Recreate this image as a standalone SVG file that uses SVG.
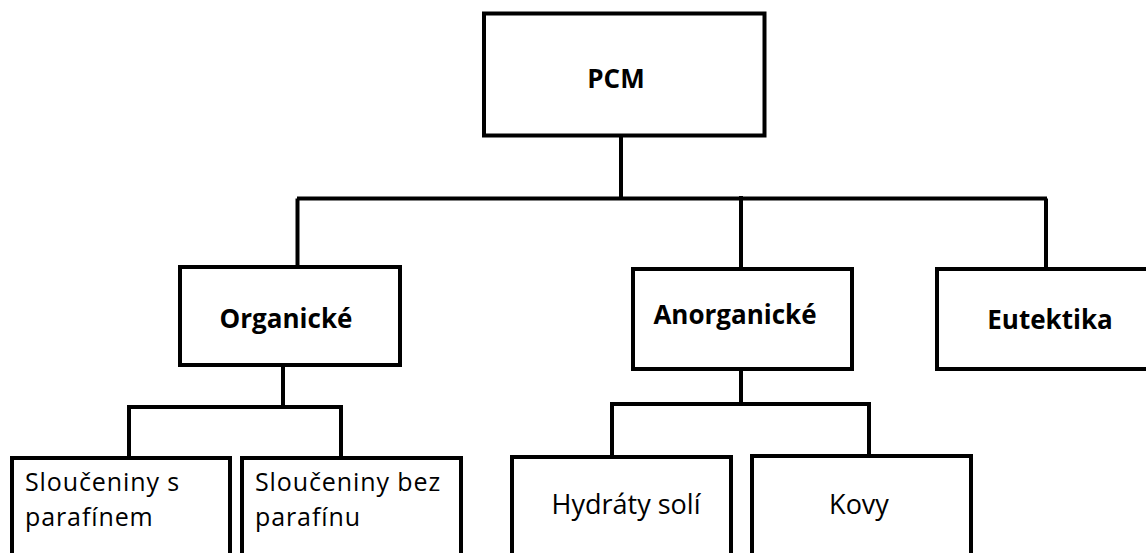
<svg xmlns="http://www.w3.org/2000/svg" width="1146" height="553" viewBox="0 0 1146 553">
<style>
.box{fill:#fff;stroke:#000;stroke-width:4}
.ln{stroke:#000;stroke-width:4;fill:none}
.b{font-family:"Open Sans","Noto Sans",sans-serif;font-weight:bold;font-size:26px;fill:#000}
.r{font-family:"Open Sans","Noto Sans",sans-serif;font-size:27px;fill:#000}
.r2{font-family:"Open Sans","Noto Sans",sans-serif;font-size:25px;letter-spacing:0.9px;fill:#000}
</style>
<rect width="1146" height="553" fill="#fff"/>
<g id="connectors">
<path class="ln" d="M621,136 V200"/>
<path class="ln" d="M297,198.5 H1047"/>
<path class="ln" d="M297.5,198.5 V267"/>
<path class="ln" d="M741,196 V269"/>
<path class="ln" d="M1046,198.5 V269"/>
<path class="ln" d="M283,365 V407"/>
<path class="ln" d="M129,407 H341"/>
<path class="ln" d="M129,405 V458"/>
<path class="ln" d="M341,405 V458"/>
<path class="ln" d="M741,369 V402"/>
<path class="ln" d="M612,404 H869"/>
<path class="ln" d="M612,402 V457"/>
<path class="ln" d="M869,402 V456"/>
</g>
<g id="pcm">
<rect class="box" x="484" y="13.5" width="280.5" height="122"/>
<text class="b" x="616" y="88" text-anchor="middle">PCM</text>
</g>
<g id="organicke">
<rect class="box" x="180" y="267" width="220" height="98"/>
<text class="b" x="286" y="328" text-anchor="middle">Organické</text>
</g>
<g id="anorganicke">
<rect class="box" x="633" y="269" width="219" height="100"/>
<text class="b" x="735" y="324" text-anchor="middle">Anorganické</text>
</g>
<g id="eutektika">
<rect class="box" x="937" y="269" width="220" height="100"/>
<text class="b" x="1050" y="329" text-anchor="middle">Eutektika</text>
</g>
<g id="slouceniny-s">
<rect class="box" x="12" y="458" width="218" height="110"/>
<text class="r2" x="25" y="491">Sloučeniny s</text>
<text class="r2" x="25" y="526">parafínem</text>
</g>
<g id="slouceniny-bez">
<rect class="box" x="242" y="458" width="219" height="110"/>
<text class="r2" x="255" y="491">Sloučeniny bez</text>
<text class="r2" x="255" y="526">parafínu</text>
</g>
<g id="hydraty">
<rect class="box" x="512" y="457" width="219" height="110"/>
<text class="r" x="626" y="514" text-anchor="middle">Hydráty solí</text>
</g>
<g id="kovy">
<rect class="box" x="752" y="456" width="219" height="110"/>
<text class="r" x="859" y="514" text-anchor="middle">Kovy</text>
</g>
</svg>
